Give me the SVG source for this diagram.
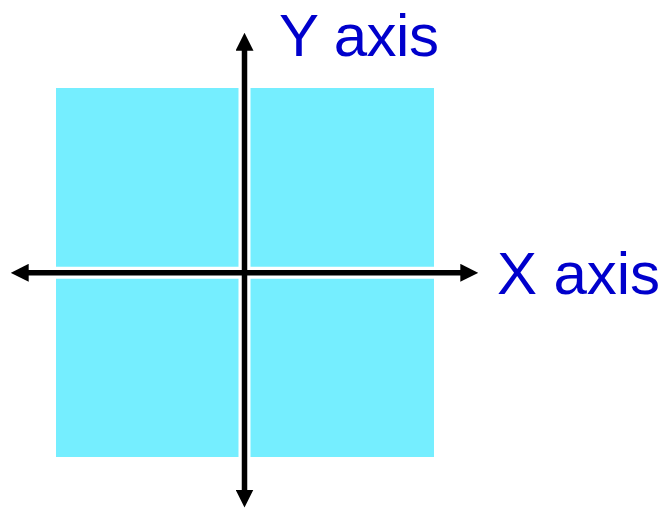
<svg xmlns="http://www.w3.org/2000/svg" width="665" height="509" viewBox="0 0 665 509">
  <style>
    .label { font-family: "Liberation Sans", "Open Sans", sans-serif; font-size: 60px; fill: #0000CC; }
    .gap { stroke: #FFFFFF; stroke-width: 12; fill: none; }
    .axis { stroke: #000000; stroke-width: 5.5; fill: none; marker-end: url(#head); marker-start: url(#headStart); }
  </style>
  <defs>
    <marker id="head" markerUnits="userSpaceOnUse" markerWidth="18" markerHeight="18" refX="2" refY="9" orient="auto">
      <path d="M0,0 L18,9 L0,18 Z" fill="#000000"/>
    </marker>
    <marker id="headStart" markerUnits="userSpaceOnUse" markerWidth="18" markerHeight="18" refX="2" refY="9" orient="auto-start-reverse">
      <path d="M0,0 L18,9 L0,18 Z" fill="#000000"/>
    </marker>
  </defs>
  <g id="plane">
    <rect x="56" y="88" width="378" height="369" fill="#75EEFF"/>
  </g>
  <g id="connectors">
    <line class="gap" x1="244.5" y1="88" x2="244.5" y2="457"/>
    <line class="gap" x1="56" y1="272.8" x2="434" y2="272.8"/>
    <line id="y-axis" class="axis" x1="244.5" y1="48.7" x2="244.5" y2="491.5"/>
    <line id="x-axis" class="axis" x1="26.7" y1="272.8" x2="462.3" y2="272.8"/>
  </g>
  <g id="y-label">
    <text class="label" x="279" y="56" textLength="160" lengthAdjust="spacing">Y axis</text>
  </g>
  <g id="x-label">
    <text class="label" x="497" y="294" textLength="163" lengthAdjust="spacing">X axis</text>
  </g>
</svg>
